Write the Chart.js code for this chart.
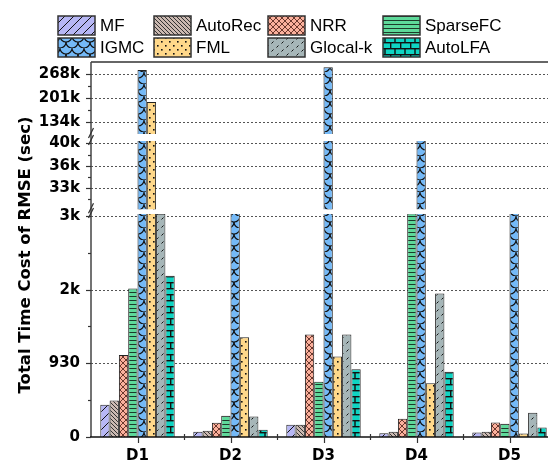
<!DOCTYPE html>
<html>
<head>
<meta charset="utf-8">
<script src="https://cdn.jsdelivr.net/npm/chart.js@4/dist/chart.umd.min.js"></script>
<style>
  html, body { margin: 0; padding: 0; background: #fff; overflow: hidden; }
  #wrap { width: 560px; height: 461px; }
</style>
</head>
<body>
<div id="wrap"><canvas id="c" width="560" height="461"></canvas></div>
<script>
// ---- data ----
const categories = ['D1', 'D2', 'D3', 'D4', 'D5'];
const seriesNames = ['MF', 'AutoRec', 'NRR', 'SparseFC', 'IGMC', 'FML', 'Glocal-k', 'AutoLFA'];
const mf       = [408, 66, 154, 48, 57];
const autoRec  = [462, 78, 154, 66, 66];
const nrr      = [1035, 180, 1293, 230, 183];
const sparseFC = [1875, 268, 698, 6000, 167];
const igmc     = [279200, 9000, 286700, 60000, 12000];
const fml      = [189800, 1259, 1015, 677, 44];
const glocalK  = [4000, 259, 1293, 1812, 306];
const autoLFA  = [2034, 91, 854, 825, 120];
const seriesValues = [mf, autoRec, nrr, sparseFC, igmc, fml, glocalK, autoLFA];

// y axis ticks (three stacked ranges of one broken axis)
const yTickValues = [0, 930, 1860, 2790, 33333, 36667, 40000, 134000, 201000, 268000];
const yTickLabels = ['0', '930', '2k', '3k', '33k', '36k', '40k', '134k', '201k', '268k'];
const yMinorTicks = [465, 1395, 2325, 31667, 35000, 38333, 167500, 234500];
// value ranges shown by each piece of the axis
const axisRanges = [[0, 2815], [30200, 40350], [100500, 301500]];

// ---- layout of the broken axis: share of the plot height given to each range ----
const rangeSpans = [[0, 0.5947], [0.6072, 0.7893], [0.808, 1]];
const breakPoints = [];
axisRanges.forEach((r, i) => {
  breakPoints.push([r[0], rangeSpans[i][0]]);
  breakPoints.push([r[1], rangeSpans[i][1]]);
});
function valueToDecimal(v) {
  const p = breakPoints;
  if (v <= p[0][0]) return p[0][1];
  for (let i = 1; i < p.length; i++) {
    if (v <= p[i][0]) {
      const t = (v - p[i - 1][0]) / (p[i][0] - p[i - 1][0]);
      return p[i - 1][1] + t * (p[i][1] - p[i - 1][1]);
    }
  }
  const a = p[p.length - 2], b = p[p.length - 1];
  return b[1] + (v - b[0]) * (b[1] - a[1]) / (b[0] - a[0]);
}
function decimalToValue(d) {
  const p = breakPoints;
  for (let i = 1; i < p.length; i++) {
    if (d <= p[i][1]) {
      const t = (d - p[i - 1][1]) / (p[i][1] - p[i - 1][1]);
      return p[i - 1][0] + t * (p[i][0] - p[i - 1][0]);
    }
  }
  return p[p.length - 1][0];
}

class BrokenLinearScale extends Chart.LinearScale {
  getPixelForValue(value) { return this.getPixelForDecimal(valueToDecimal(value)); }
  getValueForPixel(pixel) { return decimalToValue(this.getDecimalForPixel(pixel)); }
}
BrokenLinearScale.id = 'brokenLinear';
BrokenLinearScale.defaults = {};
Chart.register(BrokenLinearScale);

// ---- fills ----
const ctxMain = document.getElementById('c').getContext('2d');
function makePattern(w, h, bg, draw) {
  const c = document.createElement('canvas');
  c.width = w; c.height = h;
  const g = c.getContext('2d');
  g.fillStyle = bg; g.fillRect(0, 0, w, h);
  g.strokeStyle = '#111'; g.fillStyle = '#111'; g.lineWidth = 1;
  draw(g, w, h);
  return ctxMain.createPattern(c, 'repeat');
}
function seg(g, x1, y1, x2, y2) { g.beginPath(); g.moveTo(x1, y1); g.lineTo(x2, y2); g.stroke(); }

const fills = [
  makePattern(9, 9, '#b7b7f5', (g) => { seg(g, -1, 10, 10, -1); }),
  makePattern(4, 4, '#cbb9b1', (g) => { g.strokeStyle = '#333'; seg(g, -1, -1, 5, 5); seg(g, -1, 3, 1, 5); seg(g, 3, -1, 5, 1); }),
  makePattern(6, 6, '#fbb09c', (g) => {
    g.strokeStyle = '#5a2a20'; g.lineWidth = 0.9;
    seg(g, -1, -1, 7, 7); seg(g, -1, 7, 7, -1);
  }),
  makePattern(4, 4, '#5ed99a', (g) => { g.fillStyle = '#1d3a2a'; g.fillRect(0, 0, 4, 1); }),
  makePattern(12, 12, '#74b9f7', (g) => {
    g.lineWidth = 1.1;
    g.beginPath(); g.arc(6, 0, 6, 0, Math.PI); g.stroke();
    g.beginPath(); g.arc(0, 6, 6, 0, Math.PI / 2); g.stroke();
    g.beginPath(); g.arc(12, 6, 6, Math.PI / 2, Math.PI); g.stroke();
  }),
  makePattern(8, 8, '#ffd88a', (g) => { g.fillRect(1, 1, 1.6, 1.6); g.fillRect(5, 5, 1.6, 1.6); }),
  makePattern(10, 8, '#a6b6b8', (g) => { seg(g, 1.5, 3.5, 3.5, 1.5); seg(g, 6.5, 7.5, 8.5, 5.5); }),
  makePattern(10, 12, '#0fd4c2', (g) => {
    g.fillRect(0, 0, 10, 1.4); g.fillRect(0, 6, 10, 1.4);
    g.fillRect(4.3, 0, 1.4, 6); g.fillRect(0, 6, 1.4, 6);
  })
];

// ---- decorations: dotted grid, axis break bands, frame, tick marks, legend, title ----
const TEXT_FONT = '"DejaVu Sans", "Liberation Sans", Arial, sans-serif';
const LEGEND_FONT = '"Liberation Sans", Arial, sans-serif';
const brokenAxisDecor = {
  id: 'brokenAxisDecor',
  beforeDatasetsDraw(chart) {
    const { ctx, chartArea: a, scales: { y } } = chart;
    ctx.save();
    ctx.strokeStyle = '#555';
    ctx.lineWidth = 1;
    ctx.setLineDash([2, 2]);
    yTickValues.forEach(v => {
      if (v === 0) return;
      const py = Math.round(y.getPixelForValue(v)) + 0.5;
      ctx.beginPath(); ctx.moveTo(a.left, py); ctx.lineTo(a.right, py); ctx.stroke();
    });
    ctx.restore();
  },
  afterDatasetsDraw(chart) {
    const { ctx, chartArea: a, scales: { x, y } } = chart;
    ctx.save();
    // blank bands between axis ranges
    ctx.fillStyle = '#fff';
    for (let i = 0; i < axisRanges.length - 1; i++) {
      const yb = y.getPixelForValue(axisRanges[i][1]);
      const yt = y.getPixelForValue(axisRanges[i + 1][0]);
      ctx.fillRect(a.left + 1, yt, a.right - a.left, yb - yt);
    }
    // frame
    ctx.strokeStyle = '#666'; ctx.lineWidth = 2;
    ctx.beginPath(); ctx.moveTo(a.left, a.top); ctx.lineTo(a.right + 10, a.top); ctx.stroke();
    ctx.strokeStyle = '#444'; ctx.lineWidth = 1.5;
    ctx.beginPath(); ctx.moveTo(a.left, a.top); ctx.lineTo(a.left, a.bottom); ctx.stroke();
    ctx.strokeStyle = '#111'; ctx.lineWidth = 1.5;
    ctx.beginPath(); ctx.moveTo(a.left - 1, a.bottom); ctx.lineTo(a.right + 10, a.bottom); ctx.stroke();
    // y tick marks
    ctx.strokeStyle = '#333'; ctx.lineWidth = 1.2;
    yTickValues.forEach(v => {
      const py = Math.round(y.getPixelForValue(v)) + 0.5;
      ctx.beginPath(); ctx.moveTo(a.left - 5, py); ctx.lineTo(a.left, py); ctx.stroke();
    });
    yMinorTicks.forEach(v => {
      const py = Math.round(y.getPixelForValue(v)) + 0.5;
      ctx.beginPath(); ctx.moveTo(a.left - 3, py); ctx.lineTo(a.left, py); ctx.stroke();
    });
    // x tick marks
    categories.forEach((c, i) => {
      const px = Math.round(x.getPixelForValue(i)) + 0.5;
      ctx.beginPath(); ctx.moveTo(px, a.bottom); ctx.lineTo(px, a.bottom + 6); ctx.stroke();
      const pb = Math.round(x.getPixelForValue(i + 0.5)) + 0.5;
      ctx.beginPath(); ctx.moveTo(pb, a.bottom - 3); ctx.lineTo(pb, a.bottom + 3); ctx.stroke();
    });
    // break marks on the value axis
    ctx.strokeStyle = '#333'; ctx.lineWidth = 1.3;
    for (let i = 0; i < axisRanges.length - 1; i++) {
      [y.getPixelForValue(axisRanges[i][1]), y.getPixelForValue(axisRanges[i + 1][0])].forEach(py => {
        const cy = py - 1;
        ctx.beginPath(); ctx.moveTo(a.left - 2.5, cy + 5); ctx.lineTo(a.left + 2.5, cy - 5); ctx.stroke();
      });
    }
    ctx.restore();
  },
  afterDraw(chart) {
    const { ctx } = chart;
    ctx.save();
    // legend: two rows of four
    const colX = [58, 154, 268, 383];
    const rowY = [16, 38];
    ctx.font = '17px ' + LEGEND_FONT;
    ctx.textBaseline = 'middle';
    ctx.textAlign = 'left';
    seriesNames.forEach((name, i) => {
      const bx = colX[i % 4], by = rowY[Math.floor(i / 4)];
      ctx.fillStyle = fills[i];
      ctx.fillRect(bx, by, 37, 19);
      ctx.strokeStyle = '#333'; ctx.lineWidth = 1.5;
      ctx.strokeRect(bx, by, 37, 19);
      ctx.fillStyle = '#000';
      ctx.fillText(name, bx + 42, by + 10);
    });
    // value axis title
    ctx.translate(26, 255);
    ctx.rotate(-Math.PI / 2);
    ctx.font = 'bold 16.5px ' + TEXT_FONT;
    ctx.textAlign = 'center';
    ctx.fillStyle = '#000';
    ctx.fillText('Total Time Cost of RMSE (sec)', 0, 0);
    ctx.restore();
  }
};

new Chart(ctxMain, {
  type: 'bar',
  data: {
    labels: categories,
    datasets: seriesNames.map((name, i) => ({
      label: name,
      data: seriesValues[i],
      backgroundColor: fills[i],
      borderColor: '#222',
      borderWidth: 1,
      categoryPercentage: 0.8,
      barPercentage: 1.0
    }))
  },
  options: {
    responsive: false,
    animation: false,
    layout: { padding: { top: 62, right: 4, left: 0, bottom: 0 } },
    plugins: { legend: { display: false }, tooltip: { enabled: false } },
    scales: {
      x: {
        grid: { display: false, drawTicks: false },
        border: { display: false },
        ticks: { color: '#000', font: { family: TEXT_FONT, size: 15, weight: 'bold' }, padding: 10 },
        afterFit(scale) { scale.height = 24; }
      },
      y: {
        type: 'brokenLinear',
        min: 0,
        max: 301500,
        grid: { display: false, drawTicks: false },
        border: { display: false },
        ticks: {
          autoSkip: false,
          color: '#000',
          font: { family: TEXT_FONT, size: 15, weight: 'bold' },
          padding: 11,
          callback: (v, i) => yTickLabels[i]
        },
        afterBuildTicks(scale) { scale.ticks = yTickValues.map(v => ({ value: v })); },
        afterFit(scale) { scale.width = 91; }
      }
    }
  },
  plugins: [brokenAxisDecor]
});
</script>
</body>
</html>
